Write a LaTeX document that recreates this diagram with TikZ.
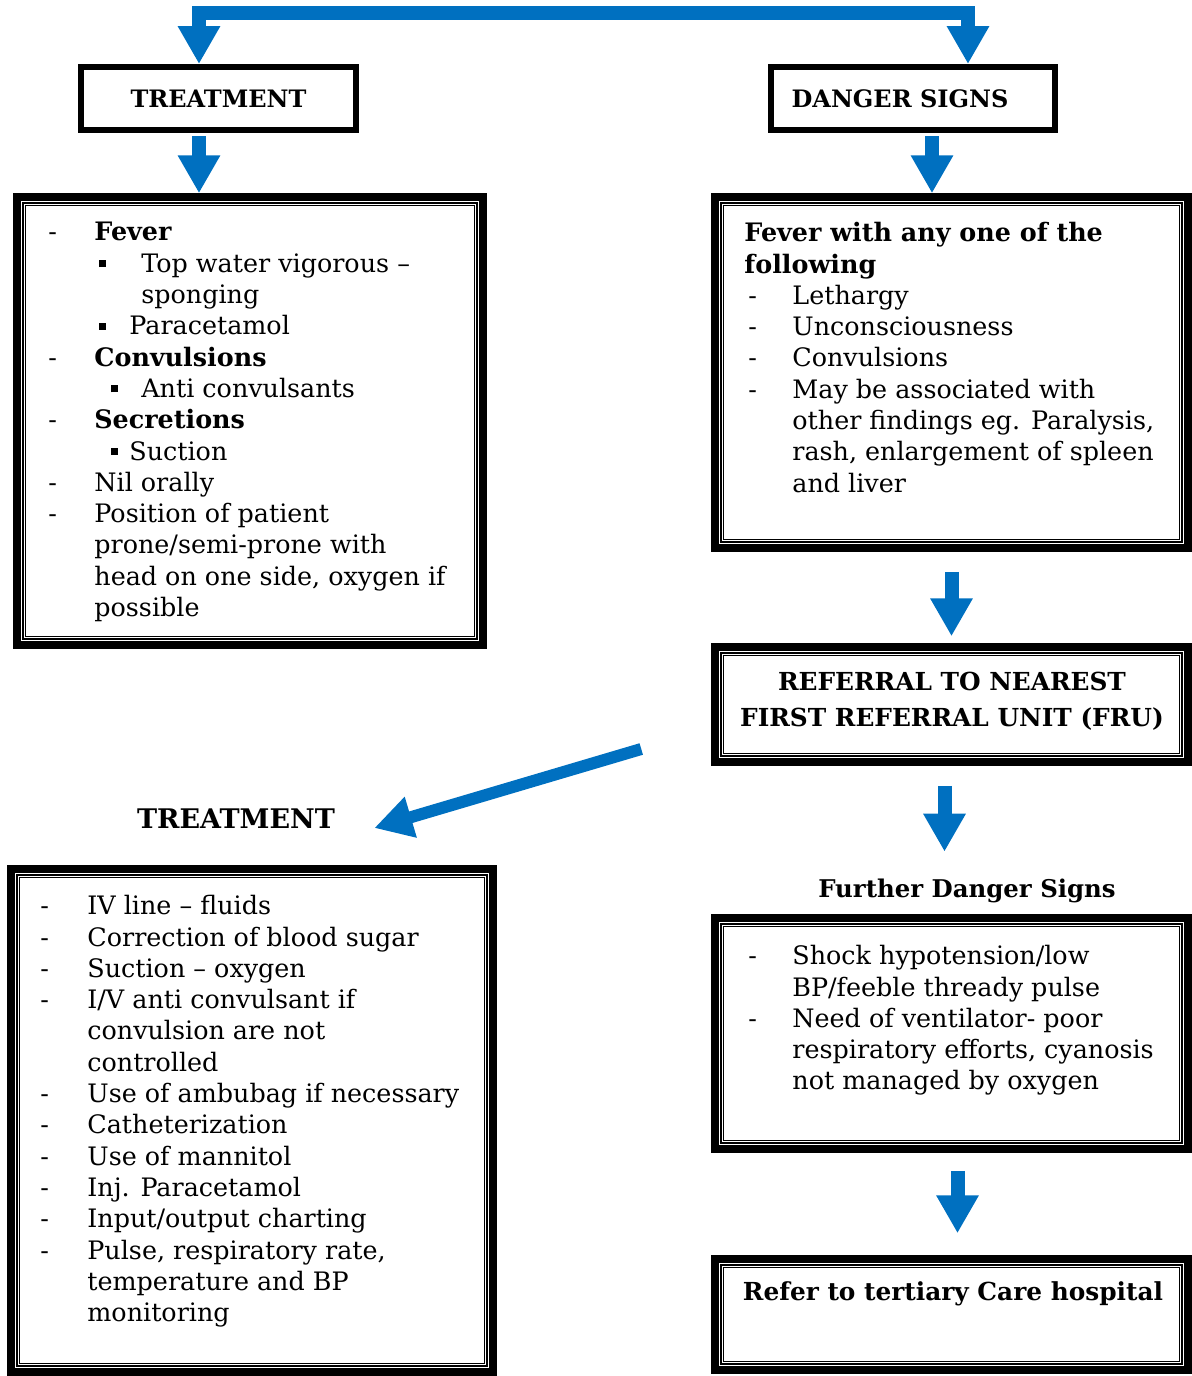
\documentclass[tikz,border=0pt]{standalone}
\usepackage{fontspec}
\setmainfont{DejaVu Serif}
\usetikzlibrary{arrows.meta,fit,positioning}

\definecolor{arrowblue}{HTML}{0070C0}
\newcommand{\bodyfont}{\fontsize{12.7}{15.65}\selectfont}
\newcommand{\titlefont}{\fontsize{12}{15.65}\selectfont\bfseries}
\newcommand{\headfont}{\fontsize{12.4}{18}\selectfont\bfseries}
\newcommand{\dsh}[1][23pt]{\makebox[#1][l]{-}}
\newcommand{\sqb}[2]{\makebox[#2][l]{\hspace*{#1}\raisebox{0.2em}{\rule{3.5pt}{3.5pt}}}}

\begin{document}
\begin{tikzpicture}[x=0.5pt,y=-0.5pt,
    frame/.style={draw, line width=3pt, inner sep=0pt},
    dframe/.style={draw, line width=3.75pt, inner sep=0pt, path picture={
        \draw[line width=0.65pt] ([shift={(3.05pt,-3.05pt)}]path picture bounding box.north west) rectangle ([shift={(-3.05pt,3.05pt)}]path picture bounding box.south east);
        \draw[line width=0.5pt] ([shift={(4.3pt,-4.3pt)}]path picture bounding box.north west) rectangle ([shift={(-4.3pt,4.3pt)}]path picture bounding box.south east);}},
    title/.style={inner sep=0pt, font=\titlefont},
    head/.style={inner sep=0pt, font=\headfont},
    txt/.style={inner sep=0pt, align=left, anchor=north west, font=\bodyfont},
    flow/.style={draw=arrowblue, line width=7pt, -{Triangle[length=19pt,width=20pt]}}]
  \useasboundingbox (0,0) rectangle (1192,1376);

  % top row
  \node[frame, title, minimum width=137.5pt, minimum height=31.5pt] (treat1) at (218.5,98.5) {TREATMENT};
  \node[frame, title, minimum width=142pt, minimum height=31.5pt] (danger) at (913,98.5) {DANGER SIGNS\hspace*{13pt}};

  % framed boxes
  \node[dframe, fit={(17,197) (483,645)}] (fevA) {};
  \node[dframe, fit={(715,197) (1188,548)}] (fevB) {};
  \node[dframe, fit={(715,647) (1188,762)}] (refer) {};
  \node[dframe, fit={(715,918) (1188,1149)}] (fevD) {};
  \node[dframe, fit={(715,1259) (1188,1370)}] (finalE) {};
  \node[dframe, fit={(11,869) (493,1372)}] (treatF) {};

  % texts
  \node[txt] (fevAtxt) at (48,222) {%
    \dsh\textbf{Fever}\\
    \hspace*{23pt}\sqb{2.5pt}{23.5pt}Top water vigorous --\\
    \hspace*{46.5pt}sponging\\
    \hspace*{23pt}\sqb{2.5pt}{17.5pt}Paracetamol\\
    \dsh\textbf{Convulsions}\\
    \hspace*{23pt}\sqb{8.5pt}{23.5pt}Anti convulsants\\
    \dsh\textbf{Secretions}\\
    \hspace*{23pt}\sqb{8.5pt}{17.5pt}Suction\\
    \dsh Nil orally\\
    \dsh Position of patient\\
    \hspace*{23pt}prone/semi-prone with\\
    \hspace*{23pt}head on one side, oxygen if\\
    \hspace*{23pt}possible};
  \node[txt] (fevBtxt) at (744,222) {%
    \textbf{Fever with any one of the}\\
    \textbf{following}\\
    \hspace*{2pt}\dsh[22pt]Lethargy\\
    \hspace*{2pt}\dsh[22pt]Unconsciousness\\
    \hspace*{2pt}\dsh[22pt]Convulsions\\
    \hspace*{2pt}\dsh[22pt]May be associated with\\
    \hspace*{24pt}other findings eg. Paralysis,\\
    \hspace*{24pt}rash, enlargement of spleen\\
    \hspace*{24pt}and liver};
  \node[head, align=center] (refertxt) at (952,701) {REFERRAL TO NEAREST\\FIRST REFERRAL UNIT (FRU)};
  \node[head, font=\fontsize{12.2}{15}\selectfont\bfseries] (further) at (967,891) {Further Danger Signs};
  \node[txt] (fevDtxt) at (748,945) {%
    \dsh[22pt]Shock hypotension/low\\
    \hspace*{22pt}BP/feeble thready pulse\\
    \dsh[22pt]Need of ventilator- poor\\
    \hspace*{22pt}respiratory efforts, cyanosis\\
    \hspace*{22pt}not managed by oxygen};
  \node[head] (finaltxt) at (953,1294) {Refer to tertiary Care hospital};
  \node[head, font=\fontsize{13.5}{17}\selectfont\bfseries] (treat2) at (236,819) {TREATMENT};
  \node[txt] (treatFtxt) at (40,895) {%
    \dsh[23.5pt]IV line -- fluids\\
    \dsh[23.5pt]Correction of blood sugar\\
    \dsh[23.5pt]Suction -- oxygen\\
    \dsh[23.5pt]I/V anti convulsant if\\
    \hspace*{23.5pt}convulsion are not\\
    \hspace*{23.5pt}controlled\\
    \dsh[23.5pt]Use of ambubag if necessary\\
    \dsh[23.5pt]Catheterization\\
    \dsh[23.5pt]Use of mannitol\\
    \dsh[23.5pt]Inj. Paracetamol\\
    \dsh[23.5pt]Input/output charting\\
    \dsh[23.5pt]Pulse, respiratory rate,\\
    \hspace*{23.5pt}temperature and BP\\
    \hspace*{23.5pt}monitoring};

  % arrows
  \coordinate (topL) at (199,13);
  \coordinate (topR) at (968,13);
  \draw[flow, {Triangle[length=19pt,width=20pt]}-{Triangle[length=19pt,width=20pt]}]
    (topL |- treat1.north) -- (topL) -- (topR) -- (topR |- danger.north);
  \draw[flow, shorten <=1.5pt] (treat1.south -| topL) -- (fevA.north -| topL);
  \draw[flow, shorten <=1.5pt] ([xshift=9.5pt]danger.south) -- ([xshift=9.5pt]danger.south |- fevB.north);
  \draw[flow, shorten <=10pt, shorten >=3.5pt] (fevB.south) -- (refer.north);
  \draw[flow, shorten <=10pt, shorten >=13.5pt] ([xshift=-3.5pt]refer.south) -- ([xshift=-3.5pt]refer.south |- further.north);
  \draw[flow, shorten <=9pt, shorten >=11pt] ([xshift=3pt]fevD.south) -- ([xshift=3pt]finalE.north);
  \draw[flow, line width=6pt] ([shift={(-35pt,-22.25pt)}]refer.west) -- ([shift={(19.5pt,-4.5pt)}]treat2.east);
\end{tikzpicture}
\end{document}
